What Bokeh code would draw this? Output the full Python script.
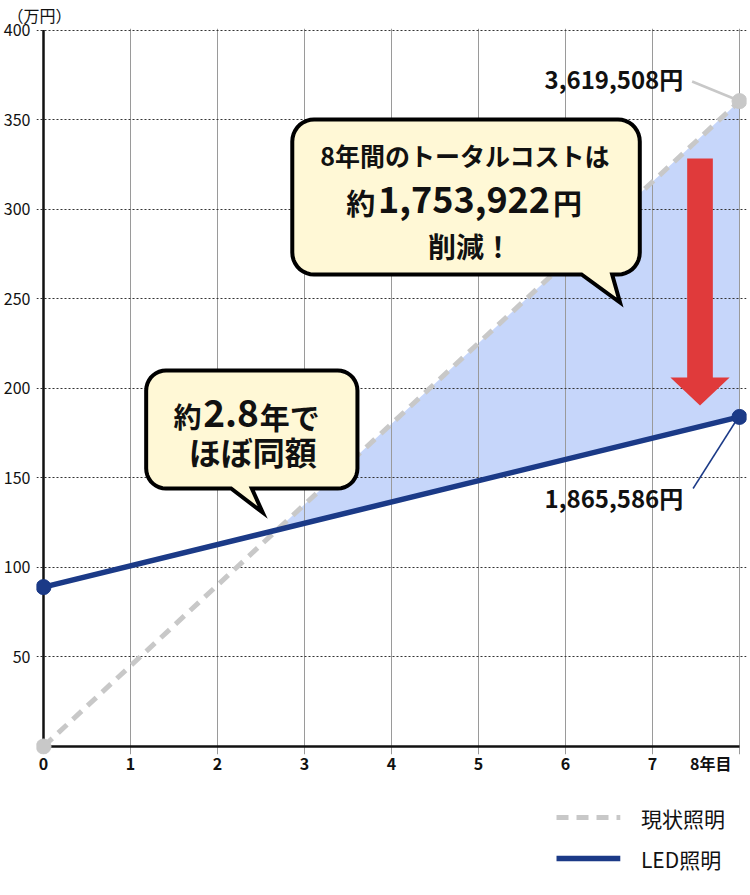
import numpy as np
from bokeh.plotting import figure
from bokeh.layouts import column
from bokeh.models import Range1d, FixedTicker, Label
from bokeh.core.properties import value
from bokeh.embed import file_html
from bokeh.resources import INLINE

# ---------------- data ----------------
years = [0, 8]
current_cost = [0.0, 360.3]         # 万円 (現状照明)
led_cost = [89.0, 184.0]            # 万円 (LED照明)
x_ticks = [0, 1, 2, 3, 4, 5, 6, 7, 8]
x_tick_labels = ["0", "1", "2", "3", "4", "5", "6", "7", "8年目"]
y_ticks = [50, 100, 150, 200, 250, 300, 350, 400]
unit_label = "（万円）"
series_names = ["現状照明", "LED照明"]
total_labels = ["3,619,508円", "1,865,586円"]
callout_main = ["8年間のトータルコストは", "約", "1,753,922", "円", "削減！"]
callout_cross = ["約", "2.8", "年で", "ほぼ同額"]

FONT = "Noto Sans CJK JP"
GRAY = "#c8c8c8"
NAVY = "#1b3a87"
CREAM = "#fff8d6"
BLUE_FILL = "#c6d6fa"
RED = "#e03a3b"
CUR_STYLE = dict(line_color=GRAY, line_width=5, line_dash="12 8")
LED_STYLE = dict(line_color=NAVY, line_width=5.5)

# ---------------- geometry ----------------
FIG_W = 740
TOTAL_H = 884
FL, FR = 29, 1
FW = FIG_W - FL - FR
FT, FH, FB = 28, 726, 40
X0_FIG, X8_FIG = 36.0, 732.0           # figure px of year 0 / year 8
REF_X0, REF_X8 = 37.0, 742.0           # same points in the reference picture
RS = (REF_X8 - REF_X0) / (X8_FIG - X0_FIG)   # ref px per figure px
PX_PER_X = (X8_FIG - X0_FIG) / 8.0
Y400_FIG, Y0_FIG = 29.5, 746.0
PX_PER_Y = (Y0_FIG - Y400_FIG) / 400.0


def fig2ref(fx):
    return REF_X0 + (fx - X0_FIG) * RS


p = figure(frame_width=FW, frame_height=FH,
           min_border_left=FL, min_border_right=FR,
           min_border_top=FT, min_border_bottom=FB,
           x_range=Range1d(-(X0_FIG - FL) / PX_PER_X, (FL + FW - X0_FIG) / PX_PER_X),
           y_range=Range1d(-(FT + FH - Y0_FIG) / PX_PER_Y, 400 + (Y400_FIG - FT) / PX_PER_Y),
           output_backend="svg", toolbar_location=None)
p.extra_x_ranges = {"rx": Range1d(fig2ref(FL), fig2ref(FL + FW))}
p.extra_y_ranges = {"ry": Range1d(FT + FH, FT)}
p.outline_line_color = None
p.background_fill_color = "white"

# unit label as title (top-left)
p.title.text = unit_label
p.title.align = "left"
p.title.vertical_align = "top"
p.title.text_font = FONT
p.title.text_font_size = "16px"
p.title.text_font_style = "normal"
p.title.text_color = "#111111"
p.title.standoff = 0
p.title.offset = -FL

# axes
pad = "\u3000"
p.xaxis.ticker = FixedTicker(ticks=x_ticks)
p.xaxis.major_label_overrides = {t: (l + pad if t == x_ticks[-1] else l)
                                 for t, l in zip(x_ticks, x_tick_labels)}
p.xaxis.axis_line_color = None
p.xaxis.major_tick_line_color = None
p.xaxis.minor_tick_line_color = None
p.xaxis.major_label_text_font = FONT
p.xaxis.major_label_text_font_size = "16px"
p.xaxis.major_label_text_font_style = "bold"
p.xaxis.major_label_text_color = "#111111"
p.xaxis.major_label_standoff = -10

p.yaxis.ticker = FixedTicker(ticks=y_ticks)
p.yaxis.axis_line_color = None
p.yaxis.major_tick_line_color = None
p.yaxis.minor_tick_line_color = None
p.yaxis.major_label_text_font = FONT
p.yaxis.major_label_text_font_size = "16px"
p.yaxis.major_label_text_color = "#111111"
p.yaxis.major_label_standoff = 0

# grids
p.ygrid.ticker = FixedTicker(ticks=y_ticks)
p.ygrid.grid_line_color = "#333333"
p.ygrid.grid_line_dash = "2 2"
p.ygrid.grid_line_width = 1
p.ygrid.bounds = (x_ticks[0], x_ticks[-1])
p.xgrid.ticker = FixedTicker(ticks=x_ticks[1:])
p.xgrid.grid_line_color = "#9a9a9a"
p.xgrid.grid_line_width = 1
p.xgrid.bounds = (0, y_ticks[-1])

# savings area (from crossing point to year 8)
cur_slope = (current_cost[1] - current_cost[0]) / (years[1] - years[0])
led_slope = (led_cost[1] - led_cost[0]) / (years[1] - years[0])
t_cross = (led_cost[0] - current_cost[0]) / (cur_slope - led_slope)
y_cross = current_cost[0] + cur_slope * t_cross
p.patch([t_cross, years[1], years[1]], [y_cross, current_cost[1], led_cost[1]],
        fill_color=BLUE_FILL, line_color=None, level="image")

# axis lines
p.segment(x0=[x_ticks[0], x_ticks[0]], y0=[0, 0], x1=[x_ticks[0], x_ticks[-1]],
          y1=[y_ticks[-1], 0], line_color="#111111", line_width=2.5)

# series
p.line(years, current_cost, **CUR_STYLE)
p.line(years, led_cost, **LED_STYLE)
p.scatter(years, current_cost, size=15, color=GRAY)
p.scatter(years, led_cost, size=15, color=NAVY)


# ---------------- callouts (reference-pixel coordinates) ----------------
def callout_path(x0, y0, x1, y1, r, tail_right, tail_left, apex):
    xs, ys = [], []

    def arc(cx, cy, a0, a1):
        for a in np.linspace(np.radians(a0), np.radians(a1), 10):
            xs.append(cx + r * np.cos(a))
            ys.append(cy + r * np.sin(a))

    arc(x0 + r, y0 + r, 180, 270)
    arc(x1 - r, y0 + r, 270, 360)
    arc(x1 - r, y1 - r, 0, 90)
    xs.extend([tail_right, apex[0], tail_left])
    ys.extend([y1, apex[1], y1])
    arc(x0 + r, y1 - r, 90, 180)
    return xs, ys


bx, by = callout_path(289, 119, 641, 274, 22, 613, 582, (621, 302))
p.patch(bx, by, x_range_name="rx", y_range_name="ry", fill_color=CREAM,
        line_color="black", line_width=4, line_join="miter")
bx2, by2 = callout_path(141, 370, 355, 488, 20, 248, 227, (259, 512))
p.patch(bx2, by2, x_range_name="rx", y_range_name="ry", fill_color=CREAM,
        line_color="black", line_width=4, line_join="miter")

# red arrow
p.patch([689, 715, 715, 732, 702, 672, 689], [158, 158, 377, 377, 405, 377, 377],
        x_range_name="rx", y_range_name="ry", fill_color=RED, line_color=None)

# leader lines
p.line([694, 741], [81, 100], x_range_name="rx", y_range_name="ry",
       line_color=GRAY, line_width=2.5)
p.line([695, 740], [488, 418], x_range_name="rx", y_range_name="ry",
       line_color=NAVY, line_width=1.5)


def lab(x, y, text, size, align="center", bold=True, color="#111111"):
    p.add_layout(Label(x=x, y=y, text=text, x_range_name="rx", y_range_name="ry",
                       text_font=FONT, text_font_size=f"{size}px",
                       text_font_style="bold" if bold else "normal",
                       text_align=align, text_baseline="middle", text_color=color))


# main callout text
lab(464, 154, callout_main[0], 25)
lab(463, 199, callout_main[2], 36)
lab(373, 201, callout_main[1], 29, align="right")
lab(553, 201, callout_main[3], 29, align="left")
lab(469, 245, callout_main[4], 28)

# crossing callout text
lab(197, 415, callout_cross[0], 28, align="right")
lab(227, 413, callout_cross[1], 37)
lab(256, 415, callout_cross[2], 30, align="left")
lab(249, 450, callout_cross[3], 32)

# totals
lab(685, 78, total_labels[0], 24, align="right")
lab(685, 497, total_labels[1], 24, align="right")

# ---------------- legend strip below the chart ----------------
P_H = FT + FH + FB
L_H = TOTAL_H - P_H
top = P_H              # reference y of legend strip top
leg = figure(width=FIG_W, height=L_H, min_border=0, x_axis_type=None, y_axis_type=None,
             x_range=Range1d(fig2ref(0), fig2ref(FIG_W)), y_range=Range1d(top + L_H, top),
             output_backend="svg", toolbar_location=None)
leg.outline_line_color = None
leg.grid.visible = False
leg_y = [817, 858]
leg.line([555, 623], [leg_y[0], leg_y[0]], **CUR_STYLE)
leg.line([555, 623], [leg_y[1], leg_y[1]], **LED_STYLE)
leg.text(x=[645, 645], y=leg_y, text=series_names, text_font=value(FONT),
         text_font_size="21px", text_baseline="middle", text_align="left",
         text_color="#111111")

open("out.html", "w").write(file_html(column(p, leg, spacing=0), INLINE))
